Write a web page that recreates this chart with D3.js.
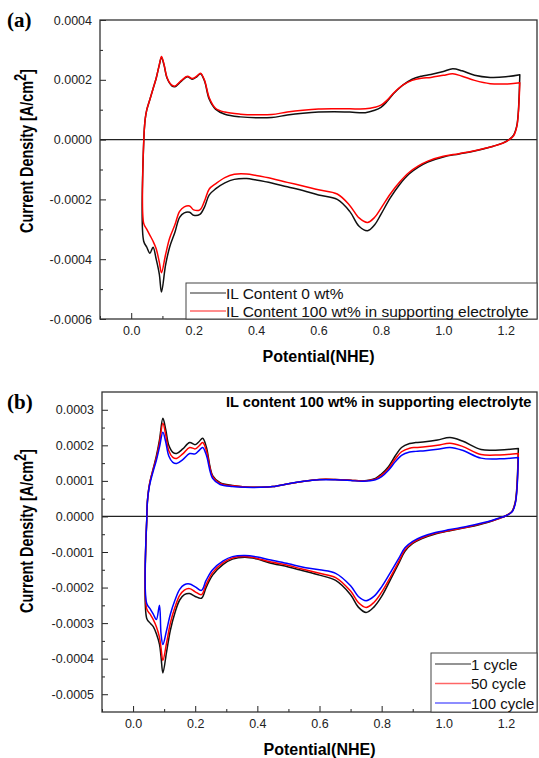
<!DOCTYPE html>
<html>
<head>
<meta charset="utf-8">
<script src="https://cdn.jsdelivr.net/npm/d3@7"></script>
<style>
    body { margin: 0; background: #fff; }
    svg { display: block; font-family: "Liberation Sans", Arial, sans-serif; }
    .axis path, .axis line { stroke: #222; }
    .axis text { font-size: 12.5px; fill: #222; font-family: "Liberation Sans", Arial, sans-serif; }
</style>
</head>
<body>
<div id="chart"></div>
<script>
// ---- panel (a): IL content 0 wt% vs 100 wt% ----
const upPotA = [0.040, 0.042, 0.045, 0.05, 0.06, 0.07, 0.08, 0.09, 0.097, 0.105, 0.115, 0.13, 0.14, 0.16, 0.18, 0.195, 0.21, 0.222, 0.235, 0.25, 0.27, 0.30, 0.35, 0.40, 0.45, 0.50, 0.55, 0.60, 0.65, 0.70, 0.75, 0.78, 0.80, 0.82, 0.84, 0.87, 0.90, 0.93, 0.96, 1.00, 1.03, 1.06, 1.10, 1.15, 1.20, 1.245];
const upIL0 = [-0.1e-4, 0.35e-4, 0.7e-4, 1.0e-4, 1.35e-4, 1.7e-4, 2.05e-4, 2.5e-4, 2.75e-4, 2.5e-4, 2.05e-4, 1.8e-4, 1.77e-4, 1.95e-4, 2.1e-4, 2.02e-4, 2.1e-4, 2.2e-4, 1.95e-4, 1.35e-4, 1.02e-4, 0.85e-4, 0.76e-4, 0.73e-4, 0.74e-4, 0.82e-4, 0.88e-4, 0.92e-4, 0.93e-4, 0.92e-4, 0.90e-4, 0.98e-4, 1.08e-4, 1.28e-4, 1.53e-4, 1.82e-4, 2.02e-4, 2.12e-4, 2.18e-4, 2.28e-4, 2.37e-4, 2.3e-4, 2.15e-4, 2.08e-4, 2.1e-4, 2.17e-4];
const upIL100 = [-0.1e-4, 0.35e-4, 0.7e-4, 1.0e-4, 1.35e-4, 1.7e-4, 2.05e-4, 2.5e-4, 2.78e-4, 2.52e-4, 2.07e-4, 1.82e-4, 1.79e-4, 1.97e-4, 2.12e-4, 2.04e-4, 2.12e-4, 2.22e-4, 1.98e-4, 1.4e-4, 1.05e-4, 0.92e-4, 0.85e-4, 0.83e-4, 0.84e-4, 0.92e-4, 0.98e-4, 1.02e-4, 1.03e-4, 1.03e-4, 1.03e-4, 1.08e-4, 1.15e-4, 1.32e-4, 1.55e-4, 1.82e-4, 1.98e-4, 2.05e-4, 2.08e-4, 2.15e-4, 2.2e-4, 2.12e-4, 1.98e-4, 1.87e-4, 1.86e-4, 1.9e-4];

const lowPotA = [1.245, 1.24, 1.235, 1.225, 1.21, 1.19, 1.16, 1.10, 1.05, 1.00, 0.95, 0.92, 0.89, 0.86, 0.83, 0.80, 0.78, 0.757, 0.73, 0.70, 0.66, 0.60, 0.55, 0.50, 0.45, 0.40, 0.37, 0.33, 0.30, 0.27, 0.25, 0.235, 0.22, 0.20, 0.187, 0.17, 0.155, 0.14, 0.123, 0.11, 0.097, 0.09, 0.08, 0.07, 0.06, 0.05, 0.04];
const lowIL0 = [2.17e-4, 0.9e-4, 0.45e-4, 0.15e-4, 0.0, -0.12e-4, -0.22e-4, -0.38e-4, -0.48e-4, -0.58e-4, -0.75e-4, -0.92e-4, -1.15e-4, -1.5e-4, -1.95e-4, -2.5e-4, -2.85e-4, -3.05e-4, -2.9e-4, -2.4e-4, -2.0e-4, -1.85e-4, -1.7e-4, -1.58e-4, -1.45e-4, -1.35e-4, -1.3e-4, -1.33e-4, -1.45e-4, -1.65e-4, -1.85e-4, -2.25e-4, -2.5e-4, -2.53e-4, -2.43e-4, -2.45e-4, -2.6e-4, -3.1e-4, -3.6e-4, -4.2e-4, -5.1e-4, -4.5e-4, -4.0e-4, -3.6e-4, -3.8e-4, -3.6e-4, -3.4e-4];
const lowIL100 = [1.9e-4, 0.85e-4, 0.42e-4, 0.13e-4, -0.01e-4, -0.12e-4, -0.22e-4, -0.37e-4, -0.47e-4, -0.56e-4, -0.72e-4, -0.88e-4, -1.1e-4, -1.42e-4, -1.82e-4, -2.3e-4, -2.6e-4, -2.77e-4, -2.62e-4, -2.2e-4, -1.82e-4, -1.68e-4, -1.55e-4, -1.43e-4, -1.3e-4, -1.2e-4, -1.15e-4, -1.16e-4, -1.27e-4, -1.48e-4, -1.65e-4, -2.05e-4, -2.35e-4, -2.35e-4, -2.22e-4, -2.25e-4, -2.4e-4, -2.85e-4, -3.3e-4, -3.85e-4, -4.45e-4, -4.1e-4, -3.65e-4, -3.4e-4, -3.2e-4, -3.0e-4, -2.8e-4];

const seriesNamesA = ["IL Content 0 wt%", "IL Content 100 wt% in supporting electrolyte"];
const colorsA = ["#111111", "#ff0000"];

// ---- panel (b): cycling in 100 wt% electrolyte ----
const upPotB = [0.044, 0.046, 0.05, 0.055, 0.065, 0.075, 0.085, 0.096, 0.105, 0.115, 0.128, 0.14, 0.16, 0.182, 0.20, 0.212, 0.224, 0.236, 0.256, 0.28, 0.32, 0.36, 0.41, 0.45, 0.50, 0.55, 0.60, 0.65, 0.70, 0.74, 0.78, 0.80, 0.822, 0.845, 0.864, 0.89, 0.91, 0.94, 0.98, 1.02, 1.06, 1.12, 1.18, 1.24];
const upCyc1 = [-0.1e-4, 0.4e-4, 0.75e-4, 1.0e-4, 1.35e-4, 1.7e-4, 2.15e-4, 2.76e-4, 2.45e-4, 2.0e-4, 1.8e-4, 1.77e-4, 1.9e-4, 2.08e-4, 2.02e-4, 2.1e-4, 2.2e-4, 1.95e-4, 1.15e-4, 0.95e-4, 0.87e-4, 0.83e-4, 0.82e-4, 0.84e-4, 0.92e-4, 0.99e-4, 1.04e-4, 1.04e-4, 1.02e-4, 1.0e-4, 1.07e-4, 1.2e-4, 1.4e-4, 1.72e-4, 1.94e-4, 2.05e-4, 2.08e-4, 2.1e-4, 2.15e-4, 2.22e-4, 2.12e-4, 1.88e-4, 1.87e-4, 1.91e-4];
const upCyc50 = [-0.1e-4, 0.4e-4, 0.75e-4, 1.0e-4, 1.33e-4, 1.65e-4, 2.07e-4, 2.62e-4, 2.3e-4, 1.85e-4, 1.66e-4, 1.63e-4, 1.76e-4, 1.94e-4, 1.9e-4, 1.98e-4, 2.08e-4, 1.85e-4, 1.12e-4, 0.93e-4, 0.86e-4, 0.83e-4, 0.82e-4, 0.84e-4, 0.92e-4, 0.99e-4, 1.04e-4, 1.04e-4, 1.02e-4, 1.0e-4, 1.05e-4, 1.16e-4, 1.35e-4, 1.63e-4, 1.82e-4, 1.92e-4, 1.94e-4, 1.96e-4, 2.0e-4, 2.06e-4, 1.97e-4, 1.74e-4, 1.73e-4, 1.77e-4];
const upCyc100 = [-0.1e-4, 0.4e-4, 0.72e-4, 0.95e-4, 1.28e-4, 1.58e-4, 1.95e-4, 2.37e-4, 2.1e-4, 1.7e-4, 1.52e-4, 1.49e-4, 1.6e-4, 1.77e-4, 1.76e-4, 1.85e-4, 1.94e-4, 1.72e-4, 1.07e-4, 0.9e-4, 0.84e-4, 0.82e-4, 0.82e-4, 0.84e-4, 0.92e-4, 0.99e-4, 1.03e-4, 1.03e-4, 1.01e-4, 0.99e-4, 1.03e-4, 1.12e-4, 1.3e-4, 1.55e-4, 1.72e-4, 1.81e-4, 1.83e-4, 1.85e-4, 1.89e-4, 1.94e-4, 1.86e-4, 1.64e-4, 1.62e-4, 1.66e-4];

const lowPotB = [1.24, 1.235, 1.23, 1.22, 1.20, 1.18, 1.14, 1.08, 1.02, 0.97, 0.93, 0.90, 0.875, 0.855, 0.83, 0.80, 0.775, 0.75, 0.725, 0.70, 0.652, 0.60, 0.544, 0.50, 0.438, 0.40, 0.36, 0.32, 0.29, 0.256, 0.235, 0.22, 0.20, 0.182, 0.165, 0.15, 0.135, 0.12, 0.108, 0.096, 0.09, 0.085, 0.075, 0.065, 0.055, 0.044];
const lowCyc1 = [1.91e-4, 0.8e-4, 0.4e-4, 0.15e-4, 0.02e-4, -0.05e-4, -0.17e-4, -0.3e-4, -0.4e-4, -0.5e-4, -0.62e-4, -0.76e-4, -0.98e-4, -1.32e-4, -1.75e-4, -2.25e-4, -2.55e-4, -2.7e-4, -2.55e-4, -2.2e-4, -1.8e-4, -1.65e-4, -1.52e-4, -1.42e-4, -1.3e-4, -1.2e-4, -1.15e-4, -1.2e-4, -1.35e-4, -1.65e-4, -2.0e-4, -2.3e-4, -2.25e-4, -2.17e-4, -2.2e-4, -2.35e-4, -2.7e-4, -3.2e-4, -3.8e-4, -4.4e-4, -3.95e-4, -3.6e-4, -3.3e-4, -3.1e-4, -3.0e-4, -2.87e-4];
const lowCyc50 = [1.77e-4, 0.75e-4, 0.38e-4, 0.14e-4, 0.02e-4, -0.05e-4, -0.16e-4, -0.29e-4, -0.39e-4, -0.48e-4, -0.6e-4, -0.74e-4, -0.94e-4, -1.27e-4, -1.68e-4, -2.13e-4, -2.42e-4, -2.56e-4, -2.42e-4, -2.1e-4, -1.72e-4, -1.6e-4, -1.48e-4, -1.38e-4, -1.27e-4, -1.18e-4, -1.13e-4, -1.17e-4, -1.3e-4, -1.58e-4, -1.92e-4, -2.2e-4, -2.12e-4, -2.03e-4, -2.07e-4, -2.22e-4, -2.55e-4, -3.0e-4, -3.55e-4, -4.05e-4, -3.7e-4, -3.4e-4, -3.1e-4, -2.9e-4, -2.75e-4, -2.6e-4];
const lowCyc100 = [1.66e-4, 0.7e-4, 0.36e-4, 0.13e-4, 0.02e-4, -0.04e-4, -0.15e-4, -0.27e-4, -0.37e-4, -0.46e-4, -0.57e-4, -0.7e-4, -0.88e-4, -1.18e-4, -1.55e-4, -1.98e-4, -2.25e-4, -2.37e-4, -2.25e-4, -1.95e-4, -1.6e-4, -1.5e-4, -1.42e-4, -1.33e-4, -1.22e-4, -1.14e-4, -1.1e-4, -1.13e-4, -1.25e-4, -1.5e-4, -1.8e-4, -2.08e-4, -1.98e-4, -1.9e-4, -1.92e-4, -2.05e-4, -2.35e-4, -2.75e-4, -3.2e-4, -3.6e-4, -3.3e-4, -2.5e-4, -2.9e-4, -2.75e-4, -2.6e-4, -2.45e-4];

const seriesNamesB = ["1 cycle", "50 cycle", "100 cycle"];
const colorsB = ["#111111", "#ff0000", "#0000ff"];

// axis ticks
const xMajor = [0.0, 0.2, 0.4, 0.6, 0.8, 1.0, 1.2];
const xMinor = [-0.1, 0.1, 0.3, 0.5, 0.7, 0.9, 1.1];
const yMajorA = [-0.0006, -0.0004, -0.0002, 0.0, 0.0002, 0.0004];
const yMinorA = [-0.0005, -0.0003, -0.0001, 0.0001, 0.0003];
const yMajorB = [-0.0005, -0.0004, -0.0003, -0.0002, -0.0001, 0.0, 0.0001, 0.0002, 0.0003];
const yMinorB = [-0.00045, -0.00035, -0.00025, -0.00015, -0.00005, 0.00005, 0.00015, 0.00025];

const W = 539, H = 758;
const svg = d3.select("#chart").append("svg")
    .attr("width", W)
    .attr("height", H);

// anodic sweep, then cathodic sweep back, closed at the low-potential end
function cvLoop(upX, upY, lowX, lowY) {
    const pts = upX.map(function (x, i) { return [x, upY[i]]; });
    lowX.forEach(function (x, i) { pts.push([x, lowY[i]]); });
    pts.push([upX[0], upY[0]]);
    return pts;
}

function drawPanel(opt) {
    const x = d3.scaleLinear().domain([-0.1, 1.3]).range([opt.left, opt.right]);
    const y = d3.scaleLinear().domain(opt.yDomain).range([opt.bottom, opt.top]);
    const fmt = function (d) { return d3.format(".4f")(d).replace("\u2212", "-"); };

    const g = svg.append("g");

    // zero line
    g.append("line")
        .attr("x1", opt.left).attr("x2", opt.right)
        .attr("y1", y(0)).attr("y2", y(0))
        .attr("stroke", "#222").attr("stroke-width", 1.2);

    const line = d3.line()
        .x(function (d) { return x(d[0]); })
        .y(function (d) { return y(d[1]); })
        .curve(d3.curveCatmullRom.alpha(0.5));

    opt.series.forEach(function (s, i) {
        g.append("path")
            .datum(cvLoop(opt.upX, s.up, opt.lowX, s.low))
            .attr("fill", "none")
            .attr("stroke", opt.colors[i])
            .attr("stroke-width", 1.5)
            .attr("stroke-linejoin", "round")
            .attr("d", line);
    });

    // axes, ticks pointing inward
    g.append("g").attr("class", "axis")
        .attr("transform", "translate(0," + opt.bottom + ")")
        .call(d3.axisBottom(x).tickValues(xMajor).tickSize(-6).tickPadding(7).tickFormat(d3.format(".1f")))
        .call(function (a) { a.select(".domain").remove(); });
    g.append("g").attr("class", "axis")
        .attr("transform", "translate(0," + opt.bottom + ")")
        .call(d3.axisBottom(x).tickValues(xMinor).tickSize(-3).tickFormat(""))
        .call(function (a) { a.select(".domain").remove(); });
    g.append("g").attr("class", "axis")
        .attr("transform", "translate(" + opt.left + ",0)")
        .call(d3.axisLeft(y).tickValues(opt.yMajor).tickSize(-6).tickPadding(8).tickFormat(fmt))
        .call(function (a) { a.select(".domain").remove(); });
    g.append("g").attr("class", "axis")
        .attr("transform", "translate(" + opt.left + ",0)")
        .call(d3.axisLeft(y).tickValues(opt.yMinor).tickSize(-3).tickFormat(""))
        .call(function (a) { a.select(".domain").remove(); });

    // frame
    g.append("rect")
        .attr("x", opt.left).attr("y", opt.top)
        .attr("width", opt.right - opt.left).attr("height", opt.bottom - opt.top)
        .attr("fill", "none").attr("stroke", "#333").attr("stroke-width", 1.3);

    // legend
    const lg = g.append("g");
    lg.append("rect")
        .attr("x", opt.legend.x).attr("y", opt.legend.y)
        .attr("width", opt.right - opt.legend.x).attr("height", opt.bottom - opt.legend.y)
        .attr("fill", "#fff").attr("stroke", "#444").attr("stroke-width", 1);
    opt.names.forEach(function (n, i) {
        const cy = opt.legend.y + opt.legend.first + i * opt.legend.step;
        lg.append("line")
            .attr("x1", opt.legend.x + 4).attr("x2", opt.legend.x + 40)
            .attr("y1", cy).attr("y2", cy)
            .attr("stroke", opt.colors[i]).attr("stroke-opacity", 0.6).attr("stroke-width", 1.3);
        lg.append("text")
            .attr("x", opt.legend.x + 40).attr("y", cy + 5.5)
            .style("font-size", opt.legend.font + "px")
            .attr("fill", "#111")
            .text(n);
    });

    // panel letter
    g.append("text")
        .attr("x", 7).attr("y", opt.letterY)
        .style("font-family", "'Liberation Serif', 'Times New Roman', serif")
        .style("font-weight", "bold").style("font-size", "21px")
        .text(opt.letter);

    // axis titles
    g.append("text")
        .attr("x", (opt.left + opt.right) / 2).attr("y", opt.xTitleY)
        .attr("text-anchor", "middle")
        .style("font-weight", "bold").style("font-size", "16px")
        .text("Potential(NHE)");

    const yt = g.append("text")
        .attr("transform", "translate(33," + opt.yTitleC + ") rotate(-90) scale(0.8,1)")
        .attr("text-anchor", "middle")
        .style("font-weight", "bold").style("font-size", "18px");
    yt.append("tspan").text("Current Density [A/cm");
    yt.append("tspan").attr("dy", -7).style("font-size", "16px").text("2");
    yt.append("tspan").attr("dy", 7).text("]");

    if (opt.title) {
        g.append("text")
            .attr("x", 226).attr("y", opt.top + 15)
            .style("font-weight", "bold").style("font-size", "14.6px")
            .text(opt.title);
    }
}

drawPanel({
    left: 100, right: 537, top: 20, bottom: 319,
    yDomain: [-0.0006, 0.0004], yMajor: yMajorA, yMinor: yMinorA,
    upX: upPotA, lowX: lowPotA,
    series: [{ up: upIL0, low: lowIL0 }, { up: upIL100, low: lowIL100 }],
    colors: colorsA, names: seriesNamesA,
    legend: { x: 186, y: 283, first: 10, step: 18, font: 15.5 },
    letter: "(a)", letterY: 27, xTitleY: 362, yTitleC: 151
});

drawPanel({
    left: 102, right: 537, top: 392, bottom: 712,
    yDomain: [-0.00055, 0.00035], yMajor: yMajorB, yMinor: yMinorB,
    upX: upPotB, lowX: lowPotB,
    series: [{ up: upCyc1, low: lowCyc1 }, { up: upCyc50, low: lowCyc50 }, { up: upCyc100, low: lowCyc100 }],
    colors: colorsB, names: seriesNamesB,
    legend: { x: 431, y: 653, first: 11, step: 19.5, font: 15 },
    letter: "(b)", letterY: 409, xTitleY: 755, yTitleC: 531,
    title: "IL content 100 wt% in supporting electrolyte"
});
</script>
</body>
</html>
